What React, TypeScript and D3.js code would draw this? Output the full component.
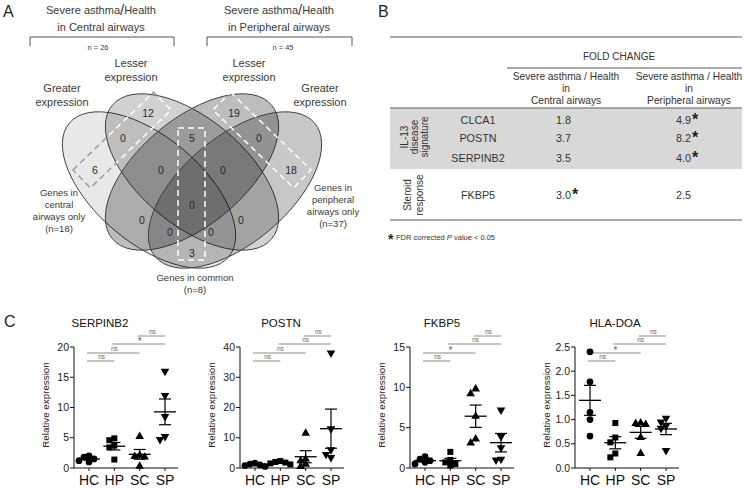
import React from 'react';
import * as d3 from 'd3';

const FONT = "'Liberation Sans', Arial, Helvetica, sans-serif";

// ---------------- Panel A data ----------------
const vennRegions = ['B', 'C', 'AB', 'BC', 'CD', 'A', 'ABC', 'BCD', 'D', 'ABCD', 'AC', 'BD', 'ACD', 'ABD', 'AD'];
const vennCounts = [12, 19, 0, 5, 0, 6, 0, 0, 18, 0, 0, 0, 0, 0, 3];
const vennSetLabels = ['Greater expression', 'Lesser expression', 'Lesser expression', 'Greater expression'];
const comparisonLines = [['Severe asthma', 'Health', 'in Central airways'], ['Severe asthma', 'Health', 'in Peripheral airways']];
const comparisonN = [26, 45];
const groupNoteCentral = ['Genes in', 'central', 'airways only', '(n=18)'];
const groupNotePeripheral = ['Genes in', 'peripheral', 'airways only', '(n=37)'];
const groupNoteCommon = ['Genes in common', '(n=8)'];

// ---------------- Panel B data ----------------
const tableGenes = ['CLCA1', 'POSTN', 'SERPINB2', 'FKBP5'];
const foldCentral = ['1.8', '3.7', '3.5', '3.0'];
const foldPeripheral = ['4.9', '8.2', '4.0', '2.5'];
const sigCentral = [false, false, false, true];
const sigPeripheral = [true, true, true, false];
const tableGroups = [['IL-13', 'disease', 'signature'], ['Steroid', 'response']];

// ---------------- Panel C data ----------------
const cGroups = ['HC', 'HP', 'SC', 'SP'];
const geneTitles = ['SERPINB2', 'POSTN', 'FKBP5', 'HLA-DOA'];
const serpinb2Values = [[2.0, 1.8, 1.5, 1.2, 1.0], [4.9, 4.6, 3.7, 3.4, 1.4], [5.2, 2.1, 1.9, 1.8, 0.3], [16, 12, 8.5, 5.2, 4.7]];
const postnValues = [[1.6, 1.3, 1.0, 0.8, 0.5], [2.3, 2.0, 1.8, 1.5, 1.2], [11.5, 3.0, 2.4, 1.2, 0.5], [38, 13, 6, 4.5, 3.5]];
const fkbp5Values = [[1.4, 1.1, 0.9, 0.7, 0.5], [2.0, 1.0, 0.7, 0.5, 0.3], [9.8, 9.2, 6.4, 3.6, 3.1], [7.2, 3.9, 2.5, 1.1, 1.0]];
const hladoaValues = [[2.4, 1.78, 1.15, 1.0, 0.66], [0.93, 0.63, 0.53, 0.3, 0.22], [0.93, 0.92, 0.9, 0.63, 0.3], [1.03, 0.95, 0.87, 0.82, 0.36]];
const yMaxes = [20, 40, 15, 2.5];
const yTickSteps = [5, 10, 5, 0.5];
const sigPairs = [[0, 1], [0, 2], [1, 3], [2, 3]];
const sigLabels = [['ns', 'ns', '*', 'ns'], ['ns', 'ns', 'ns', 'ns'], ['ns', '*', 'ns', 'ns'], ['ns', '*', 'ns', 'ns']];

// ---------------- layout ----------------
const W = 744, H = 488;
const EA = 104, EB = 53;
const ellipses = [
  { cx: 149, cy: 190, rot: 40, op: 0.09 },
  { cx: 192, cy: 172, rot: 40, op: 0.18 },
  { cx: 192, cy: 172, rot: -40, op: 0.26 },
  { cx: 235, cy: 190, rot: -40, op: 0.22 },
];
const regionPos: Record<string, [number, number]> = {
  B: [148, 113], C: [234, 113], AB: [123, 138], BC: [192, 138], CD: [259, 138],
  A: [95, 170], ABC: [161, 170], BCD: [223, 170], D: [291, 170], ABCD: [192, 205],
  AC: [142, 220], BD: [241, 220], ACD: [170, 232], ABD: [211, 232], AD: [192, 253],
};

function PanelA() {
  const tc = '#3a3a3a';
  const rectL = { cx: 122, cy: 140, ang: -44, L: 112, Wd: 25 };
  const rectR = { cx: 262, cy: 140, ang: 44, L: 112, Wd: 25 };
  const rr = (r: any, stroke: string) => (
    <rect x={-r.L / 2} y={-r.Wd / 2} width={r.L} height={r.Wd} fill="none" stroke={stroke}
      transform={`translate(${r.cx},${r.cy}) rotate(${r.ang})`} strokeDasharray="6 4" strokeWidth={1.5} />
  );
  const ellB = ellipses[1];
  const ellBNode = (fill: string) => (
    <ellipse cx={ellB.cx} cy={ellB.cy} rx={EA} ry={EB} transform={`rotate(${ellB.rot},${ellB.cx},${ellB.cy})`} fill={fill} />
  );
  return (
    <g fontFamily={FONT}>
      <defs>
        <mask id="outB" maskUnits="userSpaceOnUse" x={0} y={0} width={W} height={H}>
          <rect x={0} y={0} width={W} height={H} fill="white" />
          {ellBNode('black')}
        </mask>
        <mask id="inB" maskUnits="userSpaceOnUse" x={0} y={0} width={W} height={H}>
          <rect x={0} y={0} width={W} height={H} fill="black" />
          {ellBNode('white')}
        </mask>
      </defs>
      <text x={3} y={17} fontSize={16} fill="#222">A</text>
      {comparisonLines.map((c, i) => {
        const cx = i === 0 ? 101 : 279;
        return (
          <g key={i} fill={tc}>
            <text x={cx} y={14} fontSize={11} textAnchor="middle">{c[0]}<tspan fontSize={15} dy={1}>/</tspan><tspan dy={-1}>{c[1]}</tspan></text>
            <text x={cx} y={31} fontSize={11} textAnchor="middle">{c[2]}</text>
            <text x={i === 0 ? 98 : 283} y={50} fontSize={7.5} textAnchor="middle">{`n = ${comparisonN[i]}`}</text>
          </g>
        );
      })}
      <path d="M30,46V37H174V46" fill="none" stroke="#555" strokeWidth={1} />
      <path d="M207,46V37H352V46" fill="none" stroke="#555" strokeWidth={1} />
      {ellipses.map((e, i) => (
        <ellipse key={i} cx={e.cx} cy={e.cy} rx={EA} ry={EB} transform={`rotate(${e.rot},${e.cx},${e.cy})`}
          fill="#000" fillOpacity={e.op} stroke="#3c3c3c" strokeWidth={0.9} />
      ))}
      <g mask="url(#outB)">{rr(rectL, '#9a9a9a')}</g>
      <g mask="url(#inB)">{rr(rectL, '#ffffff')}</g>
      {rr(rectR, '#ffffff')}
      <rect x={178} y={128} width={27} height={132} fill="none" stroke="#fff" strokeWidth={1.5} strokeDasharray="6 4" />
      {vennRegions.map((r, i) => (
        <text key={r} x={regionPos[r][0]} y={regionPos[r][1]} dy="0.35em" fontSize={10.5} textAnchor="middle" fill="#2a2a2a">{vennCounts[i]}</text>
      ))}
      {[[131, 67], [249, 67]].map(([x, y], i) => (
        <text key={'l' + i} x={x} y={y} fontSize={11} textAnchor="middle" fill={tc}>
          <tspan x={x}>{vennSetLabels[1 + i].split(' ')[0]}</tspan>
          <tspan x={x} dy={14}>{vennSetLabels[1 + i].split(' ')[1]}</tspan>
        </text>
      ))}
      {[[62, 92, 0], [320, 92, 3]].map(([x, y, k], i) => (
        <text key={'g' + i} x={x} y={y} fontSize={11} textAnchor="middle" fill={tc}>
          <tspan x={x}>{vennSetLabels[k].split(' ')[0]}</tspan>
          <tspan x={x} dy={14}>{vennSetLabels[k].split(' ')[1]}</tspan>
        </text>
      ))}
      <text fontSize={9.5} textAnchor="middle" fill={tc}>
        {groupNoteCentral.map((t, i) => <tspan key={i} x={59} y={196 + i * 12}>{t}</tspan>)}
      </text>
      <text fontSize={9.5} textAnchor="middle" fill={tc}>
        {groupNotePeripheral.map((t, i) => <tspan key={i} x={333} y={191 + i * 12}>{t}</tspan>)}
      </text>
      <text fontSize={9.5} textAnchor="middle" fill={tc}>
        {groupNoteCommon.map((t, i) => <tspan key={i} x={195} y={281 + i * 12}>{t}</tspan>)}
      </text>
    </g>
  );
}

function PanelB() {
  const tc = '#333';
  const rowY = [124, 142, 162, 199];
  const col1 = 556, col2 = 676;
  const star = (x: number, y: number, k: string) => (
    <text key={k} x={x} y={y + 4} fontSize={16} fontWeight="bold" fill="#222">*</text>
  );
  return (
    <g fontFamily={FONT} fill={tc}>
      <text x={378} y={17} fontSize={16} fill="#222">B</text>
      <rect x={390} y={108} width={352} height={61} fill="#d8d8d8" />
      <line x1={390} x2={742} y1={108} y2={108} stroke="#8a8a8a" strokeWidth={1.5} />
      <line x1={390} x2={742} y1={37} y2={37} stroke="#555" strokeWidth={1} />
      <line x1={507} x2={742} y1={68} y2={68} stroke="#555" strokeWidth={1} />
      <line x1={390} x2={742} y1={220} y2={220} stroke="#555" strokeWidth={1} />
      <text x={619} y={60} fontSize={10} textAnchor="middle">FOLD CHANGE</text>
      {[566, 689].map((x, i) => (
        <text key={i} fontSize={10.2} textAnchor="middle">
          <tspan x={x} y={80}>Severe asthma / Health</tspan>
          <tspan x={x} y={92}>in</tspan>
          <tspan x={x} y={104}>{i === 0 ? 'Central airways' : 'Peripheral airways'}</tspan>
        </text>
      ))}
      {tableGenes.map((g, i) => (
        <g key={g}>
          <text x={478} y={rowY[i]} fontSize={10.8} textAnchor="middle">{g}</text>
          <text x={col1} y={rowY[i]} fontSize={10.8}>{foldCentral[i]}</text>
          <text x={col2} y={rowY[i]} fontSize={10.8}>{foldPeripheral[i]}</text>
          {sigCentral[i] && star(col1 + 16, rowY[i] - 3, 'c' + i)}
          {sigPeripheral[i] && star(col2 + 16, rowY[i] - 3, 'p' + i)}
        </g>
      ))}
      {tableGroups[0].map((t, i) => (
        <text key={t} x={404 + i * 10} y={137} fontSize={10} textAnchor="middle" dominantBaseline="central"
          transform={`rotate(-90,${404 + i * 10},137)`}>{t}</text>
      ))}
      {tableGroups[1].map((t, i) => (
        <text key={t} x={407 + i * 12} y={195} fontSize={10} textAnchor="middle" dominantBaseline="central"
          transform={`rotate(-90,${407 + i * 12},195)`}>{t}</text>
      ))}
      <text x={388} y={244} fontSize={14} fontWeight="bold" fill="#222">*</text>
      <text x={396} y={240} fontSize={7.5}>FDR corrected <tspan fontStyle="italic">P</tspan> value &lt; 0.05</text>
    </g>
  );
}

function swarm(vals: number[], ys: (v: number) => number, minD = 5, step = 5) {
  const placed: { x: number; y: number }[] = [];
  const order = vals.map((_, i) => i).sort((a, b) => vals[b] - vals[a]);
  const offs = new Array(vals.length).fill(0);
  for (const i of order) {
    const py = ys(vals[i]);
    const cands = [0, -step, step, -2 * step, 2 * step];
    for (const c of cands) {
      if (placed.every(p => Math.hypot(p.x - c, p.y - py) >= minD)) { offs[i] = c; placed.push({ x: c, y: py }); break; }
    }
  }
  return offs;
}

const symbolsFor = [d3.symbolCircle, d3.symbolSquare, d3.symbolTriangle, d3.symbolTriangle];

function Scatter({ idx, x0, titleX, values }: { idx: number; x0: number; titleX: number; values: number[][] }) {
  const yMax = yMaxes[idx];
  const y = d3.scaleLinear().domain([0, yMax]).range([468, 347]);
  const x = d3.scalePoint<string>().domain(cGroups).range([x0 + 15, x0 + 91]);
  const ticks = d3.range(0, yMax + 1e-9, yTickSteps[idx]);
  const fmt = yTickSteps[idx] < 1 ? d3.format('.1f') : d3.format('d');
  const sigY = [361, 353, 344, 336];
  return (
    <g fontFamily={FONT}>
      <text x={titleX} y={327} fontSize={11.5} textAnchor="middle" fill="#111">{geneTitles[idx]}</text>
      <line x1={x0} x2={x0} y1={468} y2={347} stroke="#111" strokeWidth={1} />
      <line x1={x0} x2={x0 + 104} y1={468} y2={468} stroke="#111" strokeWidth={1} />
      {ticks.map(t => (
        <g key={t}>
          <line x1={x0 - 4} x2={x0} y1={y(t)} y2={y(t)} stroke="#111" />
          <text x={x0 - 5} y={y(t)} dy="0.35em" fontSize={10.5} textAnchor="end" fill="#222">{fmt(t)}</text>
        </g>
      ))}
      <text x={x0 - 25} y={405} fontSize={9.8} textAnchor="middle" fill="#222" transform={`rotate(-90,${x0 - 25},405)`}>Relative expression</text>
      {cGroups.map(g => (
        <g key={g}>
          <line x1={x(g)!} x2={x(g)!} y1={468} y2={471} stroke="#111" />
          <text x={x(g)!} y={485} fontSize={14} textAnchor="middle" fill="#111">{g}</text>
        </g>
      ))}
      {sigPairs.map(([a, b], k) => {
        const xa = x(cGroups[a])!, xb = x(cGroups[b])!;
        const lab = sigLabels[idx][k];
        return (
          <g key={k}>
            <line x1={xa - 2} x2={xb} y1={sigY[k]} y2={sigY[k]} stroke="#8a8a8a" strokeWidth={1} />
            <text x={(xa + xb) / 2} y={lab === '*' ? sigY[k] + 1 : sigY[k] - 2} fontSize={lab === '*' ? 10 : 6.5}
              textAnchor="middle" fill="#666">{lab}</text>
          </g>
        );
      })}
      {values.map((vals, gi) => {
        const cx = x(cGroups[gi])!;
        const offs = swarm(vals, y);
        const mean = d3.mean(vals)!;
        const sem = d3.deviation(vals)! / Math.sqrt(vals.length);
        const sym = d3.symbol().type(symbolsFor[gi]).size(gi >= 2 ? 32 : 36)();
        return (
          <g key={gi}>
            {vals.map((v, k) => (
              <path key={k} d={sym!} fill="#000"
                transform={`translate(${cx + offs[k]},${y(v)})${gi === 3 ? ' rotate(180)' : ''}`} />
            ))}
            <line x1={cx - 11} x2={cx + 11} y1={y(mean)} y2={y(mean)} stroke="#000" strokeWidth={1.3} />
            <line x1={cx} x2={cx} y1={y(mean - sem)} y2={y(mean + sem)} stroke="#000" strokeWidth={1.2} />
            <line x1={cx - 6} x2={cx + 6} y1={y(mean + sem)} y2={y(mean + sem)} stroke="#000" strokeWidth={1.2} />
            <line x1={cx - 6} x2={cx + 6} y1={y(mean - sem)} y2={y(mean - sem)} stroke="#000" strokeWidth={1.2} />
          </g>
        );
      })}
    </g>
  );
}

function PanelC() {
  const allValues = [serpinb2Values, postnValues, fkbp5Values, hladoaValues];
  const axX = [74, 240, 410, 575];
  const titleXs = [100, 281, 442, 615];
  return (
    <g>
      <text x={4} y={327} fontSize={16} fontFamily={FONT} fill="#222">C</text>
      {allValues.map((v, i) => <Scatter key={i} idx={i} x0={axX[i]} titleX={titleXs[i]} values={v} />)}
    </g>
  );
}

export default function App() {
  return (
    <svg width={W} height={H} viewBox={`0 0 ${W} ${H}`} style={{ position: 'absolute', left: 0, top: 0, background: '#fff' }}>
      <rect x={0} y={0} width={W} height={H} fill="#fff" />
      <PanelA />
      <PanelB />
      <PanelC />
    </svg>
  );
}
